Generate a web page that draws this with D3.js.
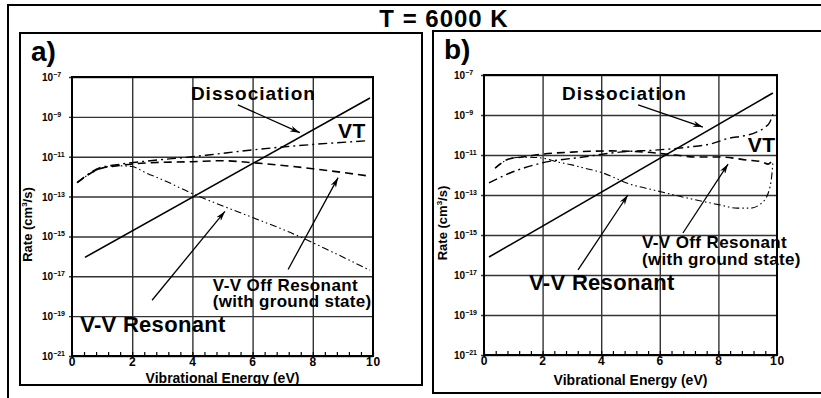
<!DOCTYPE html>
<html>
<head>
<meta charset="utf-8">
<script src="https://cdn.jsdelivr.net/npm/d3@7"></script>
<style>
  body { margin: 0; background: #fff; }
  text { font-family: "Liberation Sans", Arial, sans-serif; font-weight: bold; fill: #000; }
</style>
</head>
<body>
<svg id="chart"></svg>
<script>
// Rates vs vibrational energy at T = 6000 K, two panels

var svgWidth = 821;
var svgHeight = 398;

// axis ticks
var energyTicks = [0, 2, 4, 6, 8, 10];
var minorEnergyTicks = d3.range(0, 10.01, 0.4);
var rateExponents = [-7, -9, -11, -13, -15, -17, -19, -21];

// ---- panel a) ----
var dissocA_E = [0.43, 9.9];
var dissocA_K = [8.9e-17, 8.9e-9];

var vtA_E = [0.17, 0.93, 1.5, 2.6, 4.0, 4.6, 6.0, 7.9, 9.8];
var vtA_K = [5.0e-13, 2.8e-12, 4.0e-12, 6.3e-12, 1.0e-11, 1.26e-11, 2.2e-11, 4.0e-11, 6.3e-11];

var offA_E = [0.17, 0.93, 1.5, 2.6, 4.0, 5.0, 6.0, 8.0, 9.8];
var offA_K = [5.0e-13, 2.5e-12, 3.5e-12, 5.0e-12, 5.6e-12, 6.3e-12, 5.0e-12, 2.5e-12, 1.1e-12];

var resA_E = [0.17, 0.93, 1.5, 2.0, 2.43, 3.0, 4.0, 4.8, 6.0, 7.24, 8.67, 9.9];
var resA_K = [5.0e-13, 2.5e-12, 3.5e-12, 3.2e-12, 1.6e-12, 7.1e-13, 1.4e-13, 4.5e-14, 8.9e-15, 1.6e-15, 1.6e-16, 2.0e-17];

// ---- panel b) ----
var dissocB_E = [0.17, 9.86];
var dissocB_K = [7.9e-17, 1.26e-8];

var vtB_E = [0.17, 0.89, 1.98, 3.38, 4.64, 5.94, 7.0, 7.7, 8.4, 8.84, 9.3, 9.6, 9.76, 9.86];
var vtB_K = [4.0e-13, 1.26e-12, 4.0e-12, 7.9e-12, 1.4e-11, 1.8e-11, 2.5e-11, 3.5e-11, 7.1e-11, 8.9e-11, 1.4e-10, 2.5e-10, 4.5e-10, 1.1e-9];

var offB_E = [0.38, 0.85, 1.3, 1.98, 3.0, 4.3, 5.5, 6.5, 7.27, 8.05, 8.98, 9.5, 9.7, 9.86];
var offB_K = [2.2e-12, 6.3e-12, 7.9e-12, 1.1e-11, 1.4e-11, 1.6e-11, 1.4e-11, 1.0e-11, 7.9e-12, 7.9e-12, 5.6e-12, 4.5e-12, 3.5e-12, 6.3e-12];

var resB_E = [0.38, 0.85, 1.3, 1.98, 2.5, 3.0, 3.28, 4.06, 4.98, 5.77, 6.93, 8.05, 8.63, 9.08, 9.52, 9.76, 9.83, 9.86];
var resB_K = [2.2e-12, 6.3e-12, 7.9e-12, 7.1e-12, 4.5e-12, 3.2e-12, 2.5e-12, 1.26e-12, 3.5e-13, 1.8e-13, 7.1e-14, 3.2e-14, 2.2e-14, 2.2e-14, 4.5e-14, 2.5e-13, 1.26e-12, 4.5e-12];

// annotations: [label, energy, rate at baseline, font size, letter spacing]
var labelsA = [
  ["Dissociation", 3.95, 7.1e-9, 19, 1],
  ["VT", 8.84, 8.9e-11, 21, 0.5],
  ["V-V Off Resonant", 4.68, 1.8e-18, 17, 0.4],
  ["(with ground state)", 4.68, 2.8e-19, 17, 0.3],
  ["V-V Resonant", 0.27, 1.6e-20, 22, 0.3]
];
var arrowsA = [
  [5.51, 4.0e-9, 7.57, 1.6e-10],
  [7.18, 2.2e-17, 8.84, 8.9e-13],
  [2.66, 6.3e-19, 5.08, 1.8e-14]
];

var labelsB = [
  ["Dissociation", 2.66, 5.6e-9, 19, 1],
  ["VT", 9.0, 1.4e-11, 21, 0.5],
  ["V-V Off Resonant", 5.39, 2.2e-16, 17, 0.4],
  ["(with ground state)", 5.39, 3.2e-17, 17, 0.3],
  ["V-V Resonant", 1.54, 1.8e-18, 22, 0.3]
];
var arrowsB = [
  [5.26, 3.2e-9, 7.47, 2.5e-10],
  [6.79, 1.26e-15, 8.33, 3.5e-12],
  [3.21, 1.8e-17, 4.91, 1.0e-13]
];

var svg = d3.select("#chart")
  .attr("width", svgWidth)
  .attr("height", svgHeight);

svg.append("rect")
  .attr("width", svgWidth)
  .attr("height", svgHeight)
  .attr("fill", "#fff");

var defs = svg.append("defs");
defs.append("marker")
  .attr("id", "head")
  .attr("viewBox", "0 0 10 6")
  .attr("refX", 10)
  .attr("refY", 3)
  .attr("markerWidth", 10)
  .attr("markerHeight", 6)
  .attr("markerUnits", "userSpaceOnUse")
  .attr("orient", "auto")
  .append("path")
  .attr("d", "M0,0 L10,3 L0,6 L3,3 Z")
  .attr("fill", "#000");

// outer frame and title
svg.append("path")
  .attr("d", "M8,400 L8,5 L830,5")
  .attr("fill", "none")
  .attr("stroke", "#000")
  .attr("stroke-width", 2);

svg.append("text")
  .attr("x", 444)
  .attr("y", 27)
  .attr("text-anchor", "middle")
  .style("font-size", "24px")
  .style("letter-spacing", "1px")
  .text("T = 6000 K");

function zip(xs, ys) {
  return xs.map((x, i) => [x, ys[i]]);
}

function drawPanel(p) {
  // panel frame
  svg.append("rect")
    .attr("x", p.frame[0])
    .attr("y", p.frame[1])
    .attr("width", p.frame[2])
    .attr("height", p.frame[3])
    .attr("fill", "none")
    .attr("stroke", "#000")
    .attr("stroke-width", 2);

  svg.append("text")
    .attr("x", p.frame[0] + p.letterDx)
    .attr("y", p.frame[1] + 28)
    .style("font-size", "28px")
    .text(p.letter);

  var width = p.right - p.left;
  var height = p.bottom - p.top;

  var x = d3.scaleLinear().domain([0, 10]).range([0, width]);
  var y = d3.scaleLog().domain([1e-21, 1e-7]).range([height, 0]);

  var g = svg.append("g")
    .attr("transform", `translate(${p.left}, ${p.top})`);

  // grid
  g.append("g")
    .attr("transform", `translate(0, ${height})`)
    .call(d3.axisBottom(x).tickValues([2, 4, 6, 8]).tickSize(-height).tickFormat(""))
    .call(s => s.select(".domain").remove())
    .selectAll("line")
    .attr("stroke", "#333")
    .attr("stroke-width", 1.4);

  g.append("g")
    .call(d3.axisLeft(y).tickValues(rateExponents.map(e => Math.pow(10, e)))
      .tickSizeInner(-width).tickSizeOuter(0).tickFormat(""))
    .call(s => s.select(".domain").remove())
    .selectAll("line")
    .attr("x1", -3)
    .attr("stroke", "#333")
    .attr("stroke-width", 1.4);

  // minor x ticks
  g.append("g")
    .attr("transform", `translate(0, ${height})`)
    .call(d3.axisBottom(x).tickValues(minorEnergyTicks).tickSize(-4).tickFormat(""))
    .call(s => s.select(".domain").remove())
    .selectAll("line")
    .attr("stroke", "#000")
    .attr("stroke-width", 1.2);

  // x tick labels
  g.append("g")
    .attr("transform", `translate(0, ${height})`)
    .call(d3.axisBottom(x).tickValues(energyTicks).tickSize(0).tickPadding(1).tickFormat(d3.format("d")))
    .call(s => s.select(".domain").remove())
    .selectAll("text")
    .style("font-size", "12px")
    .style("letter-spacing", "0.8px")
    .style("font-family", "'Liberation Sans', Arial, sans-serif")
    .style("font-weight", "bold");

  // y tick labels 10^n
  var yl = g.selectAll(".ylab")
    .data(rateExponents)
    .enter()
    .append("text")
    .attr("class", "ylab")
    .attr("x", -30)
    .attr("y", d => y(Math.pow(10, d)) + 4)
    .style("font-size", "10px");
  yl.append("tspan").text("10");
  yl.append("tspan")
    .attr("dy", -4)
    .style("font-size", "7px")
    .text(d => d3.format("d")(d));

  // plot border
  g.append("rect")
    .attr("width", width)
    .attr("height", height)
    .attr("fill", "none")
    .attr("stroke", "#000")
    .attr("stroke-width", 2);

  // axis titles
  g.append("text")
    .attr("x", width / 2)
    .attr("y", height + p.xTitleDy)
    .attr("text-anchor", "middle")
    .style("font-size", "14px")
    .text("Vibrational Energy (eV)");

  var yt = g.append("text")
    .attr("transform", `translate(${p.yTitleX}, ${height / 2 + 8}) rotate(-90)`)
    .attr("text-anchor", "middle")
    .style("font-size", "13px");
  yt.append("tspan").text("Rate (cm");
  yt.append("tspan").attr("dy", -5).style("font-size", "8px").text("3");
  yt.append("tspan").attr("dy", 5).text("/s)");

  // curves
  var line = d3.line()
    .x(d => x(d[0]))
    .y(d => y(d[1]))
    .curve(d3.curveMonotoneX);

  var series = [
    { pts: p.dissoc, dash: null, w: 1.6 },
    { pts: p.vt, dash: "9,4,2,4", w: 1.4 },
    { pts: p.off, dash: "8,5", w: 1.6 },
    { pts: p.res, dash: "7,3,1.5,3,1.5,3", w: 1.1 }
  ];

  g.selectAll(".curve")
    .data(series)
    .enter()
    .append("path")
    .attr("class", "curve")
    .attr("d", d => line(d.pts))
    .attr("fill", "none")
    .attr("stroke", "#000")
    .attr("stroke-width", d => d.w)
    .attr("stroke-dasharray", d => d.dash);

  // arrows
  g.selectAll(".arrow")
    .data(p.arrows)
    .enter()
    .append("line")
    .attr("class", "arrow")
    .attr("x1", d => x(d[0]))
    .attr("y1", d => y(d[1]))
    .attr("x2", d => x(d[2]))
    .attr("y2", d => y(d[3]))
    .attr("stroke", "#000")
    .attr("stroke-width", 1.3)
    .attr("marker-end", "url(#head)");

  // labels
  g.selectAll(".note")
    .data(p.labels)
    .enter()
    .append("text")
    .attr("class", "note")
    .attr("x", d => x(d[1]))
    .attr("y", d => y(d[2]))
    .style("font-size", d => d[3] + "px")
    .style("letter-spacing", d => d[4] + "px")
    .text(d => d[0]);
}

drawPanel({
  frame: [20, 33, 402, 352],
  letter: "a)",
  letterDx: 11,
  left: 72, right: 373, top: 77, bottom: 356,
  xTitleDy: 27,
  yTitleX: -40,
  dissoc: zip(dissocA_E, dissocA_K),
  vt: zip(vtA_E, vtA_K),
  off: zip(offA_E, offA_K),
  res: zip(resA_E, resA_K),
  arrows: arrowsA,
  labels: labelsA
});

drawPanel({
  frame: [433, 31, 400, 362],
  letter: "b)",
  letterDx: 11,
  left: 484, right: 777, top: 75, bottom: 355,
  xTitleDy: 30,
  yTitleX: -37,
  dissoc: zip(dissocB_E, dissocB_K),
  vt: zip(vtB_E, vtB_K),
  off: zip(offB_E, offB_K),
  res: zip(resB_E, resB_K),
  arrows: arrowsB,
  labels: labelsB
});
</script>
</body>
</html>
